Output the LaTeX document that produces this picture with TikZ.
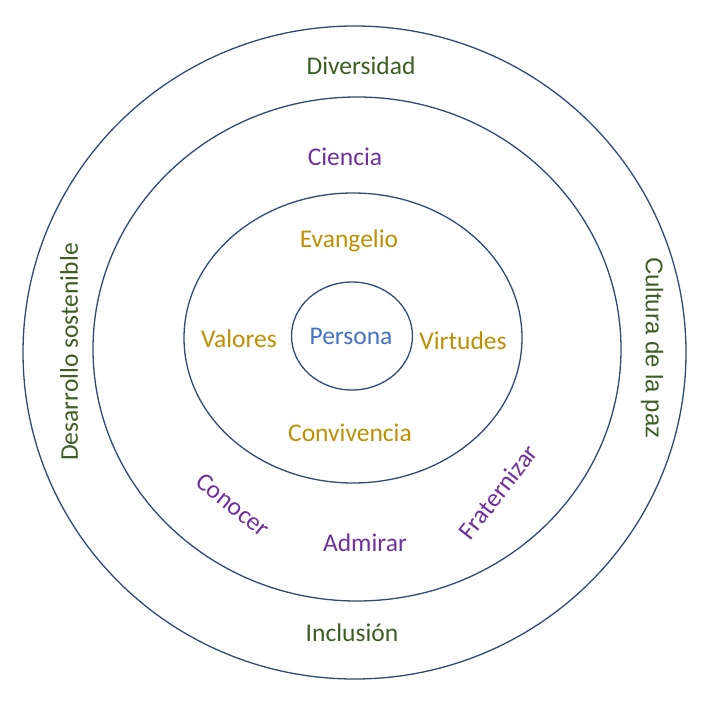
\documentclass[tikz,border=0pt]{standalone}
\usepackage{fontspec}
\setmainfont{Carlito}
\newfontfamily\arialfont{Liberation Sans}
\definecolor{ringcol}{HTML}{2F4A78}
\definecolor{greentxt}{HTML}{3B5E22}
\definecolor{purpletxt}{HTML}{7030A0}
\definecolor{goldtxt}{HTML}{BF9000}
\definecolor{bluetxt}{HTML}{4472C4}
\tikzset{
  ring/.style={draw=ringcol, line width=1.3pt},
  lbl/.style={inner sep=0pt, font=\fontsize{25.5}{30}\selectfont},
  grn/.style={lbl, text=greentxt},
  pur/.style={lbl, text=purpletxt},
  gld/.style={lbl, text=goldtxt},
  blu/.style={lbl, text=bluetxt}
}
\begin{document}
\begin{tikzpicture}[x=1pt,y=-1pt]
\useasboundingbox (0,0) rectangle (709,701);
\fill[white] (0,0) rectangle (709,701);
\draw[ring] (354.5,352.5) ellipse [x radius=331.5, y radius=326.5];
\draw[ring] (357,349) ellipse [x radius=264, y radius=252];
\draw[ring] (353,338) ellipse [x radius=169, y radius=145];
\draw[ring] (352,336) ellipse [x radius=60.5, y radius=54];
\node[grn] (div) at (361,66) {Diversidad};
\node[grn] (inc) at (352,633) {Inclusión};
\node[grn, rotate=90] (des) at (69,352) {Desarrollo sostenible};
\node[grn, rotate=-90, font=\arialfont\fontsize{24}{28}\selectfont] (cul) at (652,348) {Cultura de la paz};
\node[pur] (cie) at (345,157) {Ciencia};
\node[pur, rotate=-39] (con) at (233,505) {Conocer};
\node[pur] (adm) at (365,543) {Admirar};
\node[pur, rotate=52] (fra) at (498,492) {Fraternizar};
\node[gld] (eva) at (349,241) {Evangelio};
\node[gld] (val) at (239,339) {Valores};
\node[gld] (vir) at (463,341) {Virtudes};
\node[gld] (cvv) at (350,433) {Convivencia};
\node[blu] (per) at (351,336) {Persona};
\end{tikzpicture}
\end{document}
